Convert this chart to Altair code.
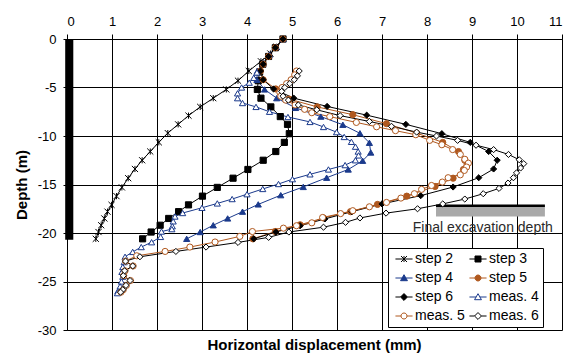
import altair as alt
import pandas as pd

FONT = "Liberation Sans"

series_names = ["step 2", "step 3", "step 4", "step 5", "step 6", "meas. 4", "meas. 5", "meas. 6"]

step2_d = [0, 0.8, 1.5, 2.3, 3.3, 4.3, 5.2, 6.1, 7.0, 7.9, 8.8, 9.7, 10.65, 11.6, 12.5, 13.4, 14.35, 15.3, 16.2, 17.1, 17.8, 18.5, 19.2, 19.9, 20.6]
step2_x = [4.80, 4.66, 4.52, 4.31, 4.04, 3.80, 3.54, 3.25, 2.96, 2.70, 2.47, 2.24, 2.04, 1.85, 1.67, 1.51, 1.36, 1.22, 1.10, 0.99, 0.90, 0.83, 0.76, 0.70, 0.64]

step3_d = [0, 0.9, 1.8, 2.6, 3.4, 4.3, 5.2, 6.1, 7.0, 8.0, 8.8, 9.76, 10.66, 11.6, 12.5, 13.45, 14.35, 15.3, 16.2, 17.1, 17.8, 18.5, 19.2, 19.9, 20.6]
step3_x = [4.80, 4.63, 4.48, 4.35, 4.28, 4.25, 4.23, 4.31, 4.53, 4.74, 4.90, 4.94, 4.83, 4.64, 4.36, 4.02, 3.69, 3.34, 3.01, 2.70, 2.48, 2.26, 2.07, 1.87, 1.68]

step4_d = [0, 0.8, 1.6, 2.5, 3.3, 4.2, 5.2, 6.1, 7.1, 8.0, 8.84, 9.72, 10.7, 11.7, 12.55, 13.45, 14.3, 15.25, 16.1, 17.05, 17.8, 18.5, 19.2, 19.9, 20.6]
step4_x = [4.80, 4.65, 4.50, 4.36, 4.23, 4.22, 4.39, 4.66, 5.08, 5.64, 6.13, 6.51, 6.72, 6.75, 6.57, 6.25, 5.77, 5.25, 4.75, 4.25, 3.90, 3.57, 3.25, 2.96, 2.66]

step5_d = [0, 0.9, 1.8, 2.6, 3.3, 4.2, 5.15, 6.2, 7.0, 7.8, 8.73, 9.7, 10.66, 11.6, 12.5, 13.45, 14.35, 15.2, 16.2, 17.05, 17.8, 18.45, 19.15, 19.85, 20.6]
step5_x = [4.80, 4.63, 4.48, 4.36, 4.30, 4.36, 4.64, 4.94, 5.56, 6.35, 7.10, 7.77, 8.35, 8.70, 8.84, 8.81, 8.58, 8.18, 7.55, 6.90, 6.30, 5.70, 5.18, 4.63, 4.13]

step6_d = [0, 0.9, 1.8, 2.6, 3.3, 4.2, 5.15, 6.1, 6.95, 7.85, 8.8, 9.76, 10.66, 11.6, 12.5, 13.4, 14.3, 15.26, 16.15, 17.0, 17.8, 18.55, 19.25, 19.9, 20.6]
step6_x = [4.80, 4.63, 4.48, 4.36, 4.30, 4.36, 4.59, 5.04, 5.78, 6.66, 7.53, 8.33, 8.96, 9.37, 9.56, 9.48, 9.15, 8.58, 7.86, 7.00, 6.33, 5.73, 5.18, 4.64, 4.15]

meas4_d = [3.45, 4.0, 4.5, 5.0, 5.6, 6.1, 6.6, 7.0, 7.5, 8.04, 8.55, 9.07, 9.6, 10.1, 10.6, 11.1, 11.6, 12.0, 12.5, 13.0, 13.45, 13.95, 14.45, 14.95, 15.46, 16.0, 16.5, 16.95, 17.4, 17.94, 18.3, 18.8, 19.3, 19.6, 19.85, 20.4, 20.95, 21.45, 21.95, 22.45, 23.0, 23.5, 24.0, 24.5, 25.0, 25.5, 26.0, 26.2]
meas4_x = [4.22, 4.15, 4.05, 3.88, 3.79, 3.79, 3.90, 4.20, 4.50, 4.91, 5.40, 5.70, 5.99, 6.16, 6.32, 6.41, 6.47, 6.48, 6.41, 6.18, 5.81, 5.40, 5.01, 4.70, 4.35, 4.00, 3.67, 3.34, 3.00, 2.57, 2.40, 2.36, 2.34, 2.33, 2.10, 2.08, 1.88, 1.65, 1.46, 1.29, 1.27, 1.24, 1.22, 1.24, 1.21, 1.18, 1.13, 1.12]

meas5_d = [3.3, 3.7, 4.2, 4.6, 5.0, 5.5, 5.9, 6.3, 6.8, 7.25, 7.6, 8.0, 8.6, 9.05, 9.45, 9.87, 10.45, 10.9, 11.4, 11.9, 12.4, 12.8, 13.2, 13.55, 14.0, 14.3, 14.75, 15.1, 15.5, 15.95, 16.4, 16.85, 17.3, 17.7, 18.0, 18.4, 18.95, 19.25, 19.5, 19.85, 20.35, 20.93, 21.45, 21.9, 22.35, 22.9, 23.4, 23.9, 24.4, 24.9, 25.4, 25.85, 26.1]
meas5_x = [5.10, 5.06, 4.98, 4.88, 4.78, 4.73, 4.75, 4.86, 5.07, 5.28, 5.44, 5.84, 6.43, 6.88, 7.30, 7.75, 8.06, 8.33, 8.57, 8.74, 8.84, 8.92, 8.88, 8.83, 8.74, 8.47, 8.34, 8.10, 7.88, 7.72, 7.42, 7.10, 6.72, 6.35, 6.08, 5.68, 5.44, 5.10, 4.81, 4.12, 3.84, 3.29, 2.73, 2.18, 1.55, 1.30, 1.47, 1.29, 1.26, 1.41, 1.32, 1.25, 1.20]

meas6_d = [3.3, 3.8, 4.2, 4.6, 5.0, 5.4, 5.9, 6.3, 6.8, 7.3, 7.9, 8.5, 9.0, 9.6, 10.0, 10.45, 10.95, 11.4, 11.9, 12.45, 12.85, 13.3, 13.8, 14.3, 14.85, 15.4, 15.95, 16.5, 17.0, 17.5, 17.95, 18.45, 18.9, 19.4, 19.9, 20.45, 20.97, 21.45, 21.9, 22.45, 22.9, 23.4, 23.9, 24.4, 24.9, 25.4, 25.85, 26.1]
meas6_x = [5.16, 5.12, 5.05, 4.95, 4.84, 4.77, 4.80, 4.92, 5.14, 5.55, 6.07, 6.72, 7.21, 7.77, 8.21, 8.68, 9.09, 9.48, 9.81, 10.05, 10.15, 10.08, 9.99, 9.92, 9.80, 9.60, 9.25, 8.84, 8.35, 7.79, 7.09, 6.51, 6.19, 5.70, 4.93, 4.48, 3.80, 3.09, 2.42, 1.62, 1.30, 1.46, 1.28, 1.25, 1.40, 1.31, 1.24, 1.19]

wall_x = [-0.04, 0.14]
wall_depth = [0, -20.7]
exc_x = [8.2, 10.62]
exc_depth = [-17.2, -18.3]
exc_label = "Final excavation depth"
exc_label_pos = [9.24, -19.45]

x_ticks = list(range(0, 12))
y_ticks = [0, -5, -10, -15, -20, -25, -30]

BLACK = "#000000"
NAVY = "#1b3a8c"
BROWN = "#b0581e"
stroke_range = [BLACK, BLACK, NAVY, BROWN, BLACK, NAVY, BROWN, BLACK]
fill_range = [BLACK, BLACK, NAVY, BROWN, BLACK, "#ffffff", "#ffffff", "#ffffff"]
ASTER = "M-1,-1L1,1M-1,1L1,-1M0,-1L0,1"
plot_shapes = [ASTER, "square", "triangle-up", "circle", "diamond", "triangle-up", "circle", "diamond"]

L = "M-2.85,0L-1,0M1,0L2.85,0"
LT = "M-2.85,0L-0.6,0M0.6,0L2.85,0"
legend_shapes = [
    "M-2.85,0L2.85,0M-1,-1L1,1M-1,1L1,-1M0,-1L0,1",
    L + "M-1,-1L1,-1L1,1L-1,1Z",
    LT + "M0,-1.1L1.15,0.9L-1.15,0.9Z",
    L + "M1,0A1,1,0,1,1,-1,0A1,1,0,1,1,1,0Z",
    "M-2.85,0L-1.15,0M1.15,0L2.85,0M0,-1.15L1.15,0L0,1.15L-1.15,0Z",
    LT + "M0,-1.1L1.15,0.9L-1.15,0.9Z",
    L + "M1,0A1,1,0,1,1,-1,0A1,1,0,1,1,1,0Z",
    "M-2.85,0L-1.15,0M1.15,0L2.85,0M0,-1.15L1.15,0L0,1.15L-1.15,0Z",
]

all_d = [step2_d, step3_d, step4_d, step5_d, step6_d, meas4_d, meas5_d, meas6_d]
all_x = [step2_x, step3_x, step4_x, step5_x, step6_x, meas4_x, meas5_x, meas6_x]
rows = []
for name, ds, xs in zip(series_names, all_d, all_x):
    for i, (d, x) in enumerate(zip(ds, xs)):
        rows.append({"series": name, "idx": i, "x": x, "depth": -d})
df = pd.DataFrame(rows)

xscale = alt.Scale(domain=[0, 11], nice=False, zero=False)
yscale = alt.Scale(domain=[-30, 0], nice=False, zero=False)

xaxis = alt.Axis(orient="top", values=x_ticks, title=None, grid=True, gridColor="#000000",
                 gridWidth=1, domainColor="#000000", tickColor="#000000", tickSize=5,
                 labelPadding=6, labelFont=FONT, labelFontSize=13, labelColor="#000000",
                 labelAngle=0)
yaxis = alt.Axis(orient="left", values=y_ticks, title="Depth (m)", grid=True, gridColor="#000000",
                 gridWidth=1, domainColor="#000000", tickColor="#000000", tickSize=4,
                 labelPadding=7, labelFont=FONT, labelFontSize=13, labelColor="#000000",
                 labelExpr="'' + datum.value", titleFont=FONT, titleFontSize=15,
                 titleFontWeight="bold", titleColor="#000000", titlePadding=8)

base = alt.Chart(df)

lines = base.mark_line(strokeWidth=1).encode(
    x=alt.X("x:Q", scale=xscale, axis=xaxis),
    y=alt.Y("depth:Q", scale=yscale, axis=yaxis),
    stroke=alt.Stroke("series:N", scale=alt.Scale(domain=series_names, range=stroke_range), legend=None),
    order=alt.Order("idx:Q"),
    detail="series:N",
)

points = base.mark_point(opacity=1, strokeWidth=1, size=38).encode(
    x=alt.X("x:Q", scale=xscale),
    y=alt.Y("depth:Q", scale=yscale),
    stroke=alt.Stroke("series:N", scale=alt.Scale(domain=series_names, range=stroke_range), legend=None),
    fill=alt.Fill("series:N", scale=alt.Scale(domain=series_names, range=fill_range), legend=None),
    shape=alt.Shape("series:N", scale=alt.Scale(domain=series_names, range=plot_shapes), legend=None),
)

leg = alt.Legend(orient="none", legendX=321, legendY=209, columns=2, direction="horizontal",
                 title=None, symbolSize=36, symbolOffset=5, labelOffset=4, labelFont=FONT,
                 labelFontSize=14, labelColor="#000000", padding=4, rowPadding=5,
                 columnPadding=1, strokeColor="#000000", fillColor="#ffffff",
                 symbolStrokeWidth=1)

legend_layer = base.transform_filter("datum.depth > 100").mark_point(opacity=1, strokeWidth=1).encode(
    x=alt.X("x:Q", scale=xscale),
    y=alt.Y("depth:Q", scale=yscale),
    stroke=alt.Stroke("series:N", scale=alt.Scale(domain=series_names, range=stroke_range), legend=leg),
    fill=alt.Fill("series:N", scale=alt.Scale(domain=series_names, range=fill_range), legend=leg),
    shape=alt.Shape("series:N", scale=alt.Scale(domain=series_names, range=legend_shapes), legend=leg),
)

wall_df = pd.DataFrame({"x1": [wall_x[0]], "x2": [wall_x[1]], "y1": [wall_depth[0]], "y2": [wall_depth[1]]})
wall = alt.Chart(wall_df).mark_rect(color="#000000").encode(
    x=alt.X("x1:Q", scale=xscale), x2="x2:Q",
    y=alt.Y("y1:Q", scale=yscale), y2="y2:Q",
)

exc_df = pd.DataFrame({"x1": [exc_x[0]], "x2": [exc_x[1]], "y1": [exc_depth[0]], "y2": [exc_depth[1]]})
exc_rect = alt.Chart(exc_df).mark_rect(color="#a9a9a9").encode(
    x=alt.X("x1:Q", scale=xscale), x2="x2:Q",
    y=alt.Y("y1:Q", scale=yscale), y2="y2:Q",
)
exc_line = alt.Chart(exc_df).mark_rule(color="#000000", strokeWidth=2.5).encode(
    x=alt.X("x1:Q", scale=xscale), x2="x2:Q",
    y=alt.Y("y1:Q", scale=yscale),
)
txt_df = pd.DataFrame({"x": [exc_label_pos[0]], "y": [exc_label_pos[1]], "t": [exc_label]})
exc_text = alt.Chart(txt_df).mark_text(font=FONT, fontSize=14, color="#2a2a2a", align="center",
                                       baseline="middle").encode(
    x=alt.X("x:Q", scale=xscale), y=alt.Y("y:Q", scale=yscale), text="t:N",
)

chart = alt.layer(wall, exc_rect, exc_line, exc_text, lines, points, legend_layer).resolve_scale(
    stroke="independent", fill="independent", shape="independent"
).properties(
    width=495, height=291,
    title=alt.TitleParams("Horizontal displacement (mm)", orient="bottom", anchor="middle",
                          fontSize=15, fontWeight="bold", font=FONT, color="#000000", offset=1),
    autosize=alt.AutoSizeParams(type="none"),
    padding={"left": 67, "top": 39, "right": 7, "bottom": 26},
).configure_view(stroke="#000000", strokeWidth=1).configure(background="#ffffff")

chart.save("out.html", embed_options={"renderer": "svg", "actions": False})
